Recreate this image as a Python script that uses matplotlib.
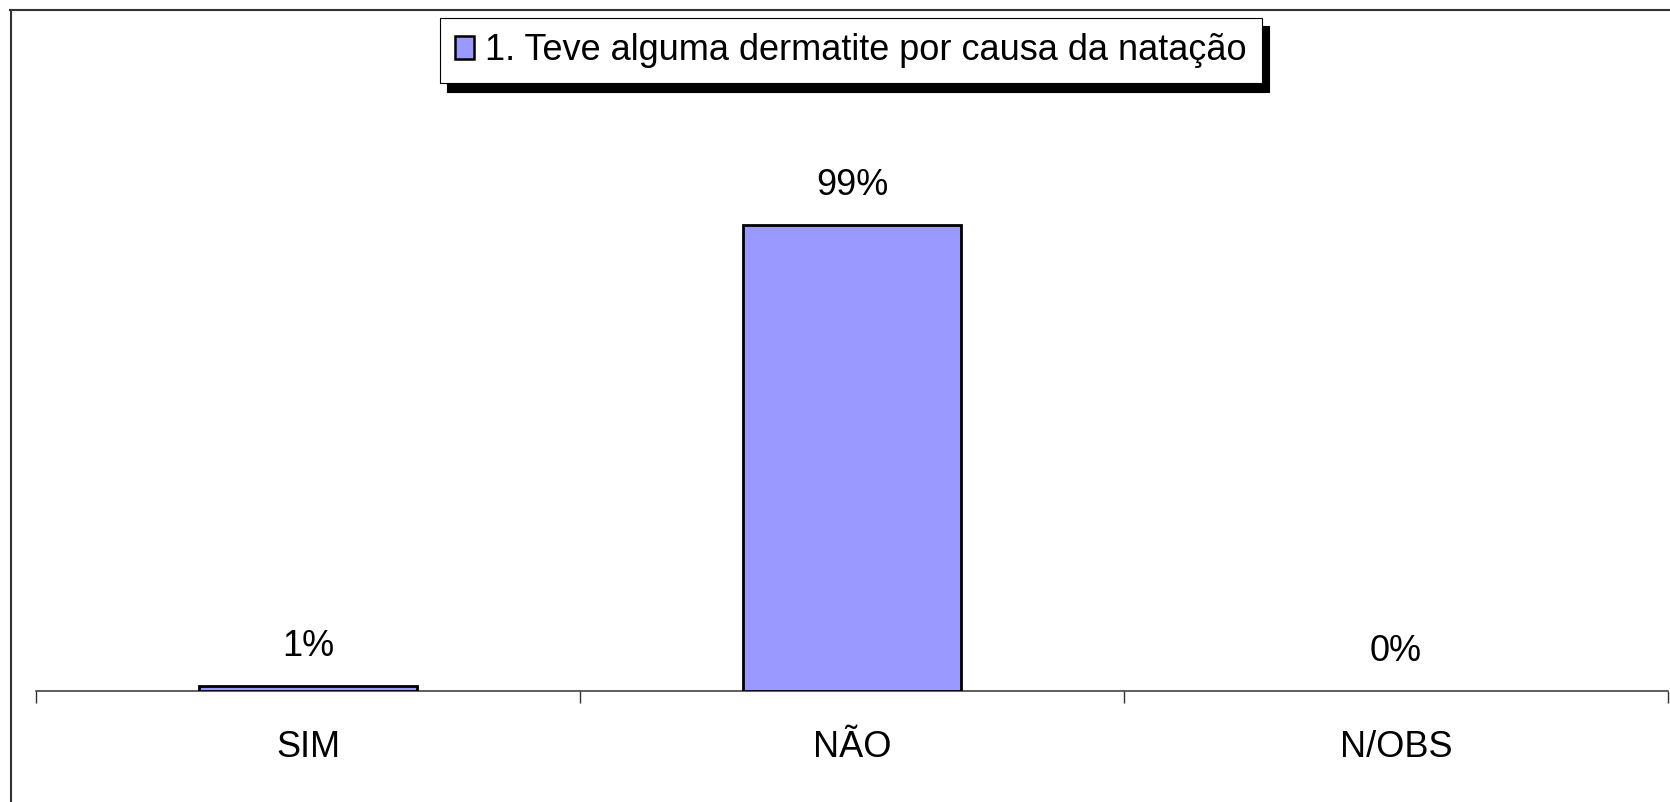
"""
Dermatite por causa da natacao - grafico de barras
"""

import numpy as np
import matplotlib
matplotlib.use('Agg')
import matplotlib.pyplot as plt
from matplotlib.lines import Line2D

plt.rcParams['font.family'] = ['Liberation Sans', 'DejaVu Sans']

## Dados
categorias = ['SIM', 'NÃO', 'N/OBS']
percentagens = [1, 99, 0]
rotulos = ['1%', '99%', '0%']
serie = '1. Teve alguma dermatite por causa da natação'

W, H = 1670, 802
fs = 26
fig = plt.figure(figsize=[W / 100, H / 100], dpi=100)

## Eixo posicionado em pixeis da figura
left, right, base = 36, 1668, 691
ymax = 120
px_por_unidade = 466 / 99
ax = fig.add_axes([left / W, (H - base) / H, (right - left) / W,
                   ymax * px_por_unidade / H])

x = np.arange(len(categorias))
bars = ax.bar(x, percentagens, width=0.4, color='#9999FF', edgecolor='black',
              linewidth=2, label=serie, zorder=3)
## barras com valor zero nao mostram contorno
for b, val in zip(bars, percentagens):
    if val == 0:
        b.set_edgecolor('none')

for xi, val, txt in zip(x, percentagens, rotulos):
    ax.annotate(txt, (xi, val), xytext=(0, 21.5), textcoords='offset points',
                ha='center', va='baseline', fontsize=fs)

ax.set_xlim(-0.5, len(categorias) - 0.5)
ax.set_ylim(0, ymax)
ax.set_xticks(x)
ax.set_xticklabels(categorias, fontsize=fs)
ax.set_xticks(np.arange(len(categorias) + 1) - 0.5, minor=True)
ax.tick_params(axis='x', which='major', length=0, pad=28)
ax.tick_params(axis='x', which='minor', length=8.6, width=1, color='#333333',
               direction='out')
ax.set_yticks([])
for s in ['top', 'right', 'left']:
    ax.spines[s].set_visible(False)
ax.spines['bottom'].set_color('#333333')
ax.spines['bottom'].set_linewidth(1.1)
ax.set_facecolor('none')

## Legenda com sombra preta
leg = ax.legend(loc='upper left', bbox_to_anchor=(440 / W, (H - 18) / H),
                bbox_transform=fig.transFigure, fontsize=fs, frameon=True,
                fancybox=False, edgecolor='black', framealpha=1,
                borderaxespad=0, borderpad=0.42, handlelength=0.52,
                handleheight=0.6, handletextpad=0.3,
                shadow={'ox': 5, 'oy': -6, 'color': 'black', 'alpha': 1})
leg.get_frame().set_linewidth(0.8)
leg.legend_handles[0].set_linewidth(1.8)

## Moldura exterior (apenas topo e esquerda visiveis)
fig.add_artist(Line2D([10 / W, 1], [(H - 10) / H, (H - 10) / H],
                      transform=fig.transFigure, color='#333333', lw=1.5))
fig.add_artist(Line2D([10.5 / W, 10.5 / W], [0, (H - 10) / H],
                      transform=fig.transFigure, color='#333333', lw=1.5))

fig.savefig('out.png', dpi=100, facecolor='white')
